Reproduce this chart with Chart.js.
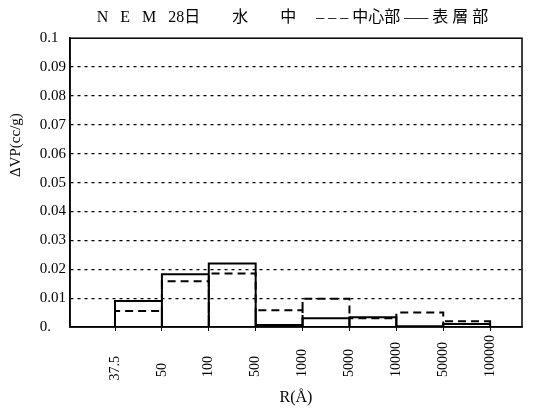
<!DOCTYPE html>
<html>
<head>
<meta charset="utf-8">
<script src="https://cdn.jsdelivr.net/npm/chart.js@4"></script>
<style>
  html, body { margin: 0; background: #fff; }
  #wrap { width: 536px; height: 419px; }
</style>
</head>
<body>
<div id="wrap"><canvas id="c"></canvas></div>
<script>
// bin boundaries R (Å)
var radiusLabels = ['37.5', '50', '100', '500', '1000', '5000', '10000', '50000', '100000'];
// ΔVP per bin (cc/g)
var centerVals  = [0.0055, 0.0158, 0.0185, 0.0058, 0.0098, 0.0030, 0.0050, 0.0020]; // 中心部 (dashed)
var surfaceVals = [0.0090, 0.0183, 0.0220, 0.0007, 0.0030, 0.0034, 0.0003, 0.0010]; // 表層部 (solid)
var yTickValues = [0, 0.01, 0.02, 0.03, 0.04, 0.05, 0.06, 0.07, 0.08, 0.09, 0.1];
var yTickLabels = ['0.', '0.01', '0.02', '0.03', '0.04', '0.05', '0.06', '0.07', '0.08', '0.09', '0.1'];

var serif = "'Liberation Serif', 'Noto Sans CJK JP', serif";
var FS = '\u2007'; // figure space, used to pad labels so they line up

function rep(s, n) { return Array(Math.max(0, Math.round(n)) + 1).join(s); }

// each bin as its own rectangle outline, chained into one polyline
function outline(vals) {
  var pts = [];
  vals.forEach(function (v, i) {
    pts.push({x: i, y: 0}, {x: i, y: v}, {x: i + 1, y: v}, {x: i + 1, y: 0});
  });
  return pts;
}

// rotated x labels start at the same baseline in the original
function padX(s) {
  return s + rep(FS, 6 - s.replace('.', '').length - (s.indexOf('.') >= 0 ? 0.5 : 0));
}
// y labels are left aligned in the original
function padY(s) {
  return s + rep(FS, 3 - s.replace('.', '').length);
}

var titleText = rep(FS, 7) + 'N   E   M   28日' + rep(' ', 8) + '水' + rep(' ', 8) + '中' +
  rep(' ', 5) + '– – – 中心部 —– 表 層 部';

var frame = {
  id: 'frame',
  afterDraw: function (chart) {
    var a = chart.chartArea, ctx = chart.ctx;
    ctx.save();
    ctx.strokeStyle = '#000';
    ctx.lineWidth = 1.5;
    ctx.strokeRect(a.left, a.top, a.right - a.left, a.bottom - a.top);
    ctx.restore();
  }
};

new Chart(document.getElementById('c'), {
  type: 'scatter',
  data: {
    datasets: [{
      label: '中心部',
      data: outline(centerVals),
      showLine: true,
      borderColor: '#000',
      borderWidth: 2,
      borderDash: [8, 5],
      pointRadius: 0,
      fill: false
    }, {
      label: '表層部',
      data: outline(surfaceVals),
      showLine: true,
      borderColor: '#000',
      borderWidth: 2,
      pointRadius: 0,
      fill: false
    }]
  },
  options: {
    responsive: true,
    maintainAspectRatio: false,
    animation: false,
    layout: { padding: { left: 7, right: 14, top: 0, bottom: 8 } },
    plugins: {
      legend: { display: false },
      tooltip: { enabled: false },
      title: {
        display: true,
        text: titleText,
        color: '#000',
        font: { family: serif, size: 16, weight: 'normal' },
        padding: { top: 8, bottom: 11 }
      }
    },
    scales: {
      x: {
        type: 'linear',
        min: -0.96,
        max: 8.68,
        afterBuildTicks: function (s) {
          s.ticks = radiusLabels.map(function (_, i) { return {value: i}; });
        },
        afterFit: function (s) { s.height = 84; },
        grid: { drawOnChartArea: false, drawTicks: true, tickLength: 4, color: '#000' },
        border: { display: true, color: '#000', width: 1.5 },
        ticks: {
          autoSkip: false,
          minRotation: 90,
          maxRotation: 90,
          padding: 4,
          color: '#000',
          font: { family: serif, size: 14 },
          callback: function (v) { return padX(radiusLabels[v]); }
        },
        title: {
          display: true,
          text: 'R(Å)',
          color: '#000',
          font: { family: serif, size: 16 },
          padding: { top: 2, bottom: 4 }
        }
      },
      y: {
        min: 0,
        max: 0.1,
        afterBuildTicks: function (s) {
          s.ticks = yTickValues.map(function (v) { return {value: v}; });
        },
        afterFit: function (s) { s.width = 63; },
        grid: {
          drawTicks: false,
          color: function (c) {
            return (c.tick && c.tick.value > 0 && c.tick.value < 0.1) ? '#000' : 'rgba(0,0,0,0)';
          },
          lineWidth: 1.2
        },
        border: { display: true, color: '#000', width: 1.5, dash: [3, 4] },
        ticks: {
          padding: 4,
          color: '#000',
          font: { family: serif, size: 15 },
          callback: function (v) {
            var i = yTickValues.indexOf(v);
            return i >= 0 ? padY(yTickLabels[i]) : '';
          }
        },
        title: {
          display: true,
          align: 'end',
          text: 'ΔVP(cc/g)' + rep(FS, 10),
          color: '#000',
          font: { family: serif, size: 15 },
          padding: { top: 0, bottom: 3 }
        }
      }
    }
  },
  plugins: [frame]
});
</script>
</body>
</html>
